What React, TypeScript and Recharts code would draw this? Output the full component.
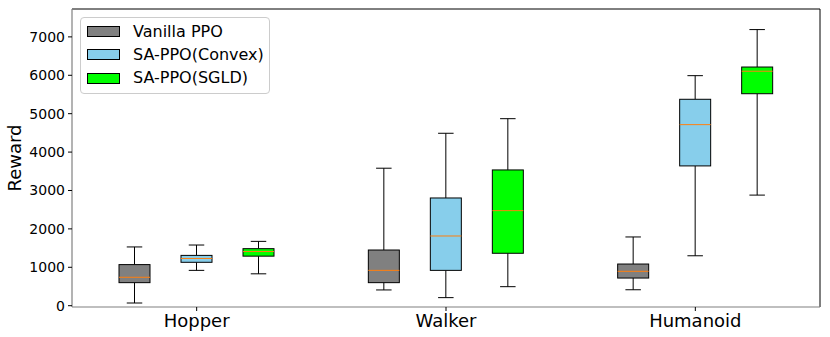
import React from 'react';
import { ComposedChart, Bar, XAxis, YAxis, Legend, ReferenceLine } from 'recharts';

// [min, q1, median, q3, max]
const categories = ['Hopper', 'Walker', 'Humanoid'];
const vanillaPPO = [
  [70, 600, 740, 1070, 1530],
  [410, 600, 920, 1450, 3580],
  [415, 720, 895, 1085, 1790],
];
const saPPOConvex = [
  [920, 1130, 1230, 1310, 1580],
  [210, 920, 1815, 2805, 4490],
  [1300, 3640, 4715, 5375, 5990],
];
const saPPOSGLD = [
  [830, 1290, 1410, 1485, 1675],
  [495, 1365, 2475, 3535, 4870],
  [2880, 5520, 6105, 6215, 7190],
];
const yTicks = [0, 1000, 2000, 3000, 4000, 5000, 6000, 7000];
const yDomain = [-34, 7726];

const seriesDefs = [
  { key: 'vanilla', name: 'Vanilla PPO', color: '#808080', values: vanillaPPO },
  { key: 'convex', name: 'SA-PPO(Convex)', color: '#87CEEB', values: saPPOConvex },
  { key: 'sgld', name: 'SA-PPO(SGLD)', color: '#00FF00', values: saPPOSGLD },
];

const data = categories.map((c, i) => {
  const row: any = { name: c };
  seriesDefs.forEach((s) => {
    row[s.key] = s.values[i];
  });
  return row;
});

const FONT = 'DejaVu Sans, sans-serif';

const makeShape = (key: string, color: string) => (props: any) => {
  const { x, y, width, height, payload } = props;
  const st: number[] = payload[key];
  if (!st) return null;
  const top = Math.min(y, y + height);
  const h = Math.abs(height);
  const [mn, q1, med, q3, mx] = st;
  const pix = (v: number) => top + (h * (mx - v)) / (mx - mn);
  const cx = x + width / 2;
  const capHalf = width / 4;
  const yQ1 = pix(q1);
  const yQ3 = pix(q3);
  const yMed = pix(med);
  const yMin = pix(mn);
  const yMax = pix(mx);
  return (
    <g>
      <line x1={cx} x2={cx} y1={yMax} y2={yQ3} stroke="#000" strokeWidth={1} />
      <line x1={cx} x2={cx} y1={yQ1} y2={yMin} stroke="#000" strokeWidth={1} />
      <line x1={cx - capHalf} x2={cx + capHalf} y1={yMax} y2={yMax} stroke="#000" strokeWidth={1} />
      <line x1={cx - capHalf} x2={cx + capHalf} y1={yMin} y2={yMin} stroke="#000" strokeWidth={1} />
      <rect x={x} y={yQ3} width={width} height={yQ1 - yQ3} fill={color} stroke="#000" strokeWidth={1} />
      <line x1={x} x2={x + width} y1={yMed} y2={yMed} stroke="#ff7f0e" strokeWidth={1} />
    </g>
  );
};

const LegendContent = () => (
  <div
    style={{
      background: '#fff',
      border: '1px solid #cccccc',
      borderRadius: 4,
      padding: '2px 6px 3px 6px',
      fontFamily: FONT,
      fontSize: 16,
      color: '#000',
      boxSizing: 'border-box',
      width: 190,
    }}
  >
    {seriesDefs.map((s) => (
      <div key={s.key} style={{ display: 'flex', alignItems: 'center', height: 23.3 }}>
        <div
          style={{
            width: 31,
            height: 9,
            background: s.color,
            border: '1px solid #000',
            marginRight: 13,
            flexShrink: 0,
          }}
        />
        <span style={{ lineHeight: '18px', whiteSpace: 'nowrap' }}>{s.name}</span>
      </div>
    ))}
  </div>
);

export default function App() {
  return (
    <div style={{ position: 'absolute', left: 0, top: 0, width: 830, height: 337, background: '#fff' }}>
      <ComposedChart
        width={830}
        height={337}
        data={data}
        margin={{ top: 9, right: 10, bottom: 0, left: 0 }}
        barSize={31}
        barGap={31}
      >
        <XAxis
          dataKey="name"
          type="category"
          height={30}
          tickSize={4}
          tickMargin={3}
          axisLine={{ stroke: '#808080', strokeWidth: 1.2 }}
          tickLine={{ stroke: '#000' }}
          tick={{ fill: '#000', fontSize: 18, fontFamily: FONT }}
        />
        <XAxis xAxisId="frame" type="number" domain={[0, 2]} allowDataOverflow hide />
        <YAxis
          type="number"
          domain={yDomain}
          ticks={yTicks}
          allowDataOverflow
          width={72}
          tickSize={4}
          tickMargin={3}
          interval={0}
          axisLine={{ stroke: '#808080', strokeWidth: 1.2 }}
          tickLine={{ stroke: '#000' }}
          tick={{ fill: '#000', fontSize: 14, fontFamily: FONT }}
          label={{
            content: (p: any) => {
              const vb = p.viewBox || { y: 9, height: 298 };
              const cy = vb.y + vb.height / 2;
              return (
                <text
                  x={14}
                  y={cy}
                  transform={`rotate(-90, 14, ${cy})`}
                  textAnchor="middle"
                  dominantBaseline="central"
                  fontSize={18}
                  fontFamily={FONT}
                  fill="#000"
                >
                  Reward
                </text>
              );
            },
          }}
        />
        <ReferenceLine y={yDomain[1]} stroke="#000" strokeWidth={1} />
        <ReferenceLine xAxisId="frame" x={2} stroke="#000" strokeWidth={1} />
        <Legend
          layout="vertical"
          align="center"
          verticalAlign="middle"
          wrapperStyle={{ left: 80, top: 17, width: 190 }}
          content={() => <LegendContent />}
        />
        {seriesDefs.map((s) => (
          <Bar
            key={s.key}
            name={s.name}
            dataKey={(d: any) => [d[s.key][0], d[s.key][4]]}
            fill={s.color}
            isAnimationActive={false}
            shape={makeShape(s.key, s.color)}
          />
        ))}
      </ComposedChart>
    </div>
  );
}
